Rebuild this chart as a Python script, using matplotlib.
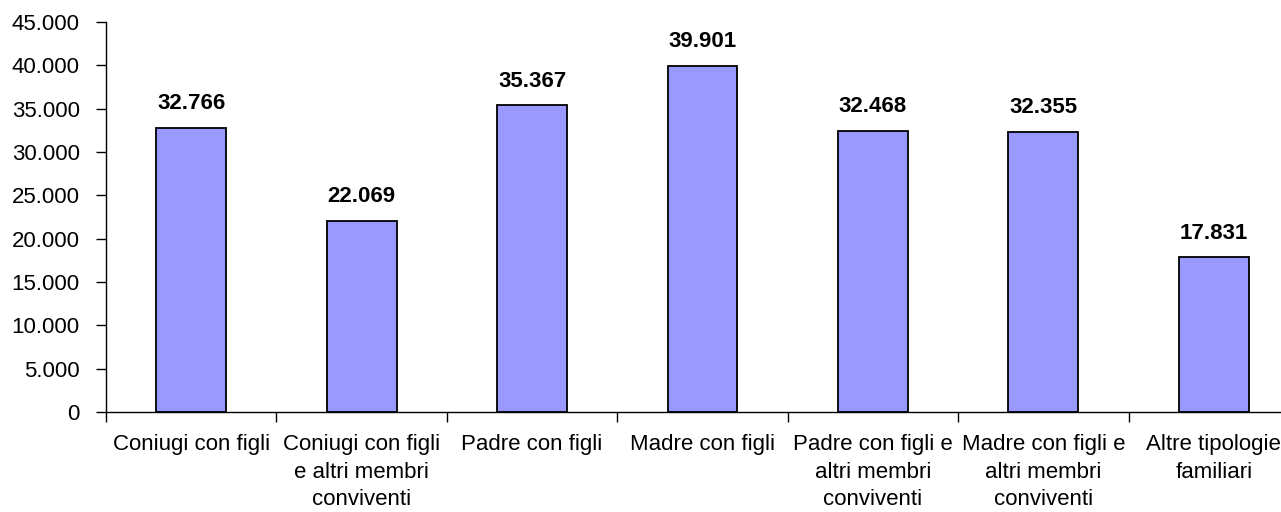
import numpy as np
import matplotlib.pyplot as plt
from matplotlib.ticker import FuncFormatter

# categories and values
categories = ["Coniugi con figli",
              "Coniugi con figli\ne altri membri\nconviventi",
              "Padre con figli",
              "Madre con figli",
              "Padre con figli e\naltri membri\nconviventi",
              "Madre con figli e\naltri membri\nconviventi",
              "Altre tipologie\nfamiliari"]
values = [32766, 22069, 35367, 39901, 32468, 32355, 17831]
value_labels = ["32.766", "22.069", "35.367", "39.901", "32.468", "32.355", "17.831"]

plt.rcParams['font.family'] = ['Liberation Sans', 'DejaVu Sans']

fig = plt.figure(figsize=(12.81, 5.12), dpi=100)
ax = fig.add_axes([106/1281, 1-412/512, 1193/1281, 390/512])

x = np.arange(len(values)) + 0.5
bars = ax.bar(x, values, width=0.41, color='#9999FF', edgecolor='black', linewidth=1.3)

for xi, v, lab in zip(x, values, value_labels):
    ax.annotate(lab, (xi, v), xytext=(0, 10), textcoords='offset points',
                ha='center', va='bottom', fontsize=16, fontweight='bold')

ax.set_xlim(0, len(values))
ax.set_ylim(0, 45000)
ax.set_yticks(np.arange(0, 45001, 5000))
ax.yaxis.set_major_formatter(FuncFormatter(lambda v, p: f"{int(v):,}".replace(",", ".")))

# ticks between categories, labels at centers
ax.set_xticks(np.arange(0, len(values) + 1))
ax.set_xticklabels([])
ax.set_xticks(x, minor=True)
ax.set_xticklabels(categories, minor=True, fontsize=16, linespacing=1.4)
ax.tick_params(axis='x', which='minor', length=0, pad=16)
ax.tick_params(axis='x', which='major', direction='out', length=7, width=1)
ax.tick_params(axis='y', direction='out', length=7, width=1, labelsize=16, pad=12)

for s in ['top', 'right']:
    ax.spines[s].set_visible(False)
ax.spines['left'].set_linewidth(1)
ax.spines['bottom'].set_linewidth(1)

plt.savefig('out.png', dpi=100)
